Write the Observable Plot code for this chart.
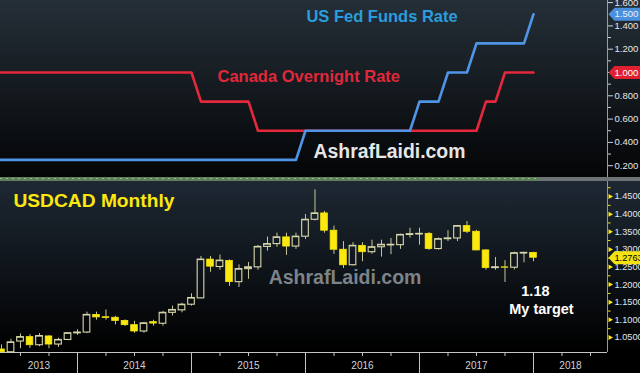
<!DOCTYPE html>
<html><head><meta charset="utf-8">
<script src="https://cdn.jsdelivr.net/npm/d3@7"></script>
<script src="https://cdn.jsdelivr.net/npm/@observablehq/plot@0.6"></script>
<style>
html,body{margin:0;padding:0;background:#000;}
#chart{width:640px;height:373px;position:relative;overflow:hidden;background:#000;font-family:"Liberation Sans",Arial,sans-serif;}
#toppanel{position:absolute;left:0;top:0;width:640px;height:177px;background:linear-gradient(to bottom,#252f38 0%,#141a1f 50%,#040506 100%);}
#divider{position:absolute;left:0;top:177px;width:640px;height:4px;
  background:
   repeating-linear-gradient(90deg,rgba(200,230,190,0.55) 0 2px,rgba(0,0,0,0) 2px 6px) 0 1px/540px 1px no-repeat,
   linear-gradient(90deg,#5f805c 0,#5f805c 540px,#6d7275 540px,#6d7275 640px);}
#bottompanel{position:absolute;left:0;top:181px;width:640px;height:192px;background:linear-gradient(to bottom,#1e2833 0%,#0d1217 50%,#000 88%,#000 100%);}
svg{display:block;}
</style>
</head><body>
<div id="chart"><div id="toppanel"></div><div id="divider"></div><div id="bottompanel"></div></div>
<script>
// ---------- Policy rates (month-end values) ----------
const rateMonths = ["2013-03","2013-04","2013-05","2013-06","2013-07","2013-08","2013-09","2013-10","2013-11","2013-12",
  "2014-01","2014-02","2014-03","2014-04","2014-05","2014-06","2014-07","2014-08","2014-09","2014-10","2014-11","2014-12",
  "2015-01","2015-02","2015-03","2015-04","2015-05","2015-06","2015-07","2015-08","2015-09","2015-10","2015-11","2015-12",
  "2016-01","2016-02","2016-03","2016-04","2016-05","2016-06","2016-07","2016-08","2016-09","2016-10","2016-11","2016-12",
  "2017-01","2017-02","2017-03","2017-04","2017-05","2017-06","2017-07","2017-08","2017-09","2017-10","2017-11","2017-12"];
const fedRate = [0.25,0.25,0.25,0.25,0.25,0.25,0.25,0.25,0.25,0.25,
  0.25,0.25,0.25,0.25,0.25,0.25,0.25,0.25,0.25,0.25,0.25,0.25,
  0.25,0.25,0.25,0.25,0.25,0.25,0.25,0.25,0.25,0.25,0.25,0.50,
  0.50,0.50,0.50,0.50,0.50,0.50,0.50,0.50,0.50,0.50,0.50,0.75,
  0.75,0.75,1.00,1.00,1.00,1.25,1.25,1.25,1.25,1.25,1.25,1.50];
const bocRate = [1.00,1.00,1.00,1.00,1.00,1.00,1.00,1.00,1.00,1.00,
  1.00,1.00,1.00,1.00,1.00,1.00,1.00,1.00,1.00,1.00,1.00,1.00,
  0.75,0.75,0.75,0.75,0.75,0.75,0.50,0.50,0.50,0.50,0.50,0.50,
  0.50,0.50,0.50,0.50,0.50,0.50,0.50,0.50,0.50,0.50,0.50,0.50,
  0.50,0.50,0.50,0.50,0.50,0.50,0.75,0.75,1.00,1.00,1.00,1.00];

// ---------- USDCAD monthly candles ----------
const months = ["2013-04","2013-05","2013-06","2013-07","2013-08","2013-09","2013-10","2013-11","2013-12",
  "2014-01","2014-02","2014-03","2014-04","2014-05","2014-06","2014-07","2014-08","2014-09","2014-10","2014-11","2014-12",
  "2015-01","2015-02","2015-03","2015-04","2015-05","2015-06","2015-07","2015-08","2015-09","2015-10","2015-11","2015-12",
  "2016-01","2016-02","2016-03","2016-04","2016-05","2016-06","2016-07","2016-08","2016-09","2016-10","2016-11","2016-12",
  "2017-01","2017-02","2017-03","2017-04","2017-05","2017-06","2017-07","2017-08","2017-09","2017-10","2017-11","2017-12"];
const open  = [1.0160,1.0080,1.0385,1.0510,1.0280,1.0530,1.0300,1.0430,1.0620,
  1.0640,1.1140,1.1075,1.1060,1.0970,1.0850,1.0670,1.0935,1.0890,1.1200,1.1270,1.1430,
  1.1610,1.2710,1.2500,1.2670,1.2070,1.2440,1.2490,1.3070,1.3150,1.3340,1.3080,1.3360,
  1.3840,1.4020,1.3530,1.2990,1.2550,1.3100,1.2920,1.3060,1.3120,1.3120,1.3410,1.3430,
  1.3440,1.3010,1.3290,1.3310,1.3660,1.3500,1.2970,1.2470,1.2490,1.2480,1.2890,1.2900];
const high  = [1.0290,1.0450,1.0600,1.0580,1.0610,1.0550,1.0480,1.0630,1.0720,
  1.1220,1.1220,1.1280,1.1100,1.1000,1.0960,1.0930,1.0990,1.1240,1.1390,1.1470,1.1740,
  1.2800,1.2800,1.2840,1.2700,1.2560,1.2630,1.3110,1.3350,1.3460,1.3460,1.3460,1.3990,
  1.4690,1.4080,1.3660,1.3220,1.3190,1.3190,1.3260,1.3260,1.3310,1.3430,1.3600,1.3600,
  1.3480,1.3320,1.3530,1.3680,1.3790,1.3540,1.2990,1.2770,1.2680,1.2920,1.2920,1.2920];
const low   = [1.0070,1.0050,1.0180,1.0190,1.0240,1.0180,1.0220,1.0410,1.0560,
  1.0610,1.0990,1.0990,1.0860,1.0810,1.0620,1.0620,1.0820,1.0820,1.1110,1.1200,1.1390,
  1.1600,1.2350,1.2410,1.1950,1.1920,1.2150,1.2410,1.2950,1.3060,1.2830,1.3000,1.3280,
  1.3810,1.3460,1.2860,1.2460,1.2530,1.2650,1.2860,1.2780,1.2850,1.3000,1.3320,1.3120,
  1.2970,1.2980,1.3220,1.3220,1.3450,1.2960,1.2410,1.2410,1.2060,1.2420,1.2620,1.2650];
const close = [1.0080,1.0360,1.0510,1.0280,1.0540,1.0300,1.0430,1.0620,1.0640,
  1.1140,1.1070,1.1055,1.0970,1.0850,1.0670,1.0900,1.0895,1.1200,1.1280,1.1430,1.1620,
  1.2710,1.2510,1.2680,1.2070,1.2440,1.2490,1.3070,1.3150,1.3340,1.3080,1.3360,1.3840,
  1.4020,1.3530,1.2990,1.2550,1.3100,1.2920,1.3060,1.3130,1.3130,1.3410,1.3430,1.3440,
  1.3010,1.3290,1.3310,1.3660,1.3500,1.2970,1.2470,1.2490,1.2480,1.2890,1.2900,1.2763];

const years = [2013,2014,2015,2016,2017,2018];
const rateTicks = [0.2,0.4,0.6,0.8,1.0,1.2,1.4,1.6];
const rateMinor = [0.3,0.5,0.7,0.9,1.1,1.3];
const fxTicks = [1.05,1.10,1.15,1.20,1.25,1.30,1.35,1.40,1.45];
const fxMinor = [1.075,1.125,1.175,1.225,1.275,1.325,1.375,1.425,1.475];

// ---------- helpers ----------
// month index: end of month, 0 = start of 2013
const tOf = s => { const [y, m] = s.split("-").map(Number); return (y - 2013) * 12 + m; };
const X_DOMAIN = [3.895, 67.79];
const FONT = "Liberation Sans, Arial, sans-serif";
const fed = rateMonths.map((m, i) => ({t: tOf(m), v: fedRate[i]}));
const boc = rateMonths.map((m, i) => ({t: tOf(m), v: bocRate[i]}));
const candles = months.map((m, i) => ({t: tOf(m), o: open[i], h: high[i], l: low[i], c: close[i]}));
const upC = candles.filter(d => d.c >= d.o);
const downC = candles.filter(d => d.c < d.o);
const HW = 0.35; // half body width in months
const yearTicks = years.map(y => (y - 2013) * 12).filter(t => t > X_DOMAIN[0] && t < X_DOMAIN[1]);
const quarterTicks = d3.range(0, 72, 3).filter(t => t % 12 !== 0 && t > X_DOMAIN[0] && t < X_DOMAIN[1]);
const yearLabels = years.map(y => {
  const a = Math.max(X_DOMAIN[0], (y - 2013) * 12), b = Math.min(X_DOMAIN[1], (y - 2013) * 12 + 12);
  return {y, t: (a + b) / 2};
});
const badge = {draw(ctx) { ctx.moveTo(0, 0); ctx.lineTo(6, -6.5); ctx.lineTo(34, -6.5); ctx.lineTo(34, 6.5); ctx.lineTo(6, 6.5); ctx.closePath(); }};
const tri = {draw(ctx) { ctx.moveTo(0, -2.5); ctx.lineTo(4.5, 0); ctx.lineTo(0, 2.5); ctx.closePath(); }};

const WICK = "#c6c697", HOLLOW = "#d9d9ad", YEL = "#fbe80f";
const lastFed = fedRate[fedRate.length - 1], lastBoc = bocRate[bocRate.length - 1], lastFx = close[close.length - 1];

// ---------- top panel ----------
const topChart = Plot.plot({
  width: 640, height: 177,
  marginLeft: 0, marginRight: 33, marginTop: 0, marginBottom: 0,
  style: {background: "transparent", fontFamily: FONT, color: "#ddd", overflow: "visible"},
  x: {type: "linear", domain: X_DOMAIN, axis: null, label: null},
  y: {domain: [0.0987, 1.618], axis: null, label: null},
  marks: [
    Plot.ruleX([X_DOMAIN[1]], {stroke: "#9a9ea2", strokeWidth: 1}),
    Plot.axisY({anchor: "right", label: null, ticks: rateMinor, tickSize: 3, tickFormat: () => "", stroke: "#cfd3d6"}),
    Plot.axisY({anchor: "right", label: null, ticks: rateTicks, tickSize: 5, tickPadding: 2, tickFormat: d3.format(".3f"),
      stroke: "#cfd3d6", fill: "#e4e6e8", fontSize: 9.5, fontFamily: FONT}),
    Plot.line(boc, {x: "t", y: "v", stroke: "#e5283c", strokeWidth: 2.6, clip: true}),
    Plot.line(fed, {x: "t", y: "v", stroke: "#4f94e6", strokeWidth: 2.6, clip: true}),
    Plot.text(["US Fed Funds Rate"], {x: 36.1, y: 1.481, textAnchor: "start", fill: "#2a9ddd",
      fontSize: 16.5, fontWeight: "bold", fontFamily: FONT}),
    Plot.text(["Canada Overnight Rate"], {x: 26.74, y: 0.966, textAnchor: "start", fill: "#e0283b",
      fontSize: 16.5, fontWeight: "bold", fontFamily: FONT}),
    Plot.text(["AshrafLaidi.com"], {x: 44.84, y: 0.322, textAnchor: "middle", fill: "#e6e6e6",
      fontSize: 19.4, fontWeight: "bold", fontFamily: FONT}),
    Plot.dot([lastBoc], {y: d => d, frameAnchor: "right", dx: 1, symbol: badge, r: 5, fill: "#e1202f", stroke: "none"}),
    Plot.text([lastBoc], {y: d => d, frameAnchor: "right", dx: 7, textAnchor: "start", text: d => d3.format(".3f")(d),
      fill: "#ffffff", fontSize: 9.5, fontFamily: FONT}),
    Plot.dot([lastFed], {y: d => d, frameAnchor: "right", dx: 1, symbol: badge, r: 5, fill: "#4a90dc", stroke: "none"}),
    Plot.text([lastFed], {y: d => d, frameAnchor: "right", dx: 7, textAnchor: "start", text: d => d3.format(".3f")(d),
      fill: "#e8f1fb", fontSize: 9.5, fontFamily: FONT})
  ]
});
document.getElementById("toppanel").appendChild(topChart);

// ---------- bottom panel ----------
const bottomChart = Plot.plot({
  width: 640, height: 192,
  marginLeft: 0, marginRight: 33, marginTop: 0, marginBottom: 21,
  style: {background: "transparent", fontFamily: FONT, color: "#ddd", overflow: "visible"},
  x: {type: "linear", domain: X_DOMAIN, axis: null, label: null},
  y: {domain: [1.0074, 1.4926], axis: null, label: null},
  marks: [
    Plot.ruleY([1.0074], {stroke: "#c4c6c8", strokeWidth: 1.2}),
    Plot.ruleX([X_DOMAIN[1]], {stroke: "#9c9c78", strokeWidth: 1}),
    Plot.axisX({label: null, ticks: yearTicks, tickSize: 21, tickFormat: () => "", stroke: "#c4c6c8"}),
    Plot.axisX({label: null, ticks: quarterTicks, tickSize: 4, tickFormat: () => "", stroke: "#c4c6c8"}),
    Plot.text(yearLabels, {x: "t", frameAnchor: "bottom", dy: 16, text: d => String(d.y), fill: "#d2d4d6",
      fontSize: 10, fontFamily: FONT}),
    Plot.axisY({anchor: "right", label: null, ticks: fxMinor, tickSize: 2.5, tickFormat: () => "", stroke: YEL}),
    Plot.dot(fxTicks, {y: d => d, frameAnchor: "right", dx: 1, symbol: tri, r: 3, fill: YEL, stroke: "none"}),
    Plot.axisY({anchor: "right", label: null, ticks: fxTicks, tickSize: 0, tickPadding: 7, tickFormat: d3.format(".4f"),
      fill: "#e4e6e8", fontSize: 9.2, fontFamily: FONT}),
    Plot.text(["USDCAD Monthly"], {x: 5.26, y: 1.4387, textAnchor: "start", fill: YEL,
      fontSize: 19.2, fontWeight: "bold", fontFamily: FONT}),
    Plot.text(["AshrafLaidi.com"], {x: 40.16, y: 1.2202, textAnchor: "middle", fill: "#7c8389",
      fontSize: 19.5, fontWeight: "bold", fontFamily: FONT}),
    Plot.ruleX(candles, {x: "t", y1: "h", y2: d => Math.max(d.o, d.c), stroke: WICK, strokeWidth: 1}),
    Plot.ruleX(candles, {x: "t", y1: d => Math.min(d.o, d.c), y2: "l", stroke: WICK, strokeWidth: 1}),
    Plot.rect(upC, {x1: d => d.t - HW, x2: d => d.t + HW, y1: "o", y2: "c", fill: "none", stroke: HOLLOW, strokeWidth: 1.1}),
    Plot.ruleY(upC, {y: "c", x1: d => d.t - HW, x2: d => d.t + HW, stroke: HOLLOW, strokeWidth: 1.1}),
    Plot.rect(downC, {x1: d => d.t - HW, x2: d => d.t + HW, y1: "o", y2: "c", fill: YEL, stroke: YEL, strokeWidth: 0.8}),
    Plot.text(["1.18"], {x: 60.2, y: 1.1805, textAnchor: "middle", fill: "#ffffff",
      fontSize: 14.5, fontWeight: "bold", fontFamily: FONT}),
    Plot.text(["My target"], {x: 60.84, y: 1.1294, textAnchor: "middle", fill: "#ffffff",
      fontSize: 14.5, fontWeight: "bold", fontFamily: FONT}),
    Plot.dot([lastFx], {y: d => d, frameAnchor: "right", dx: 1, symbol: badge, r: 5, fill: "#f3e312", stroke: "none"}),
    Plot.text([lastFx], {y: d => d, frameAnchor: "right", dx: 7, textAnchor: "start", text: d => d3.format(".4f")(d),
      fill: "#000000", fontSize: 9.2, fontFamily: FONT})
  ]
});
document.getElementById("bottompanel").appendChild(bottomChart);
</script>
</body></html>
